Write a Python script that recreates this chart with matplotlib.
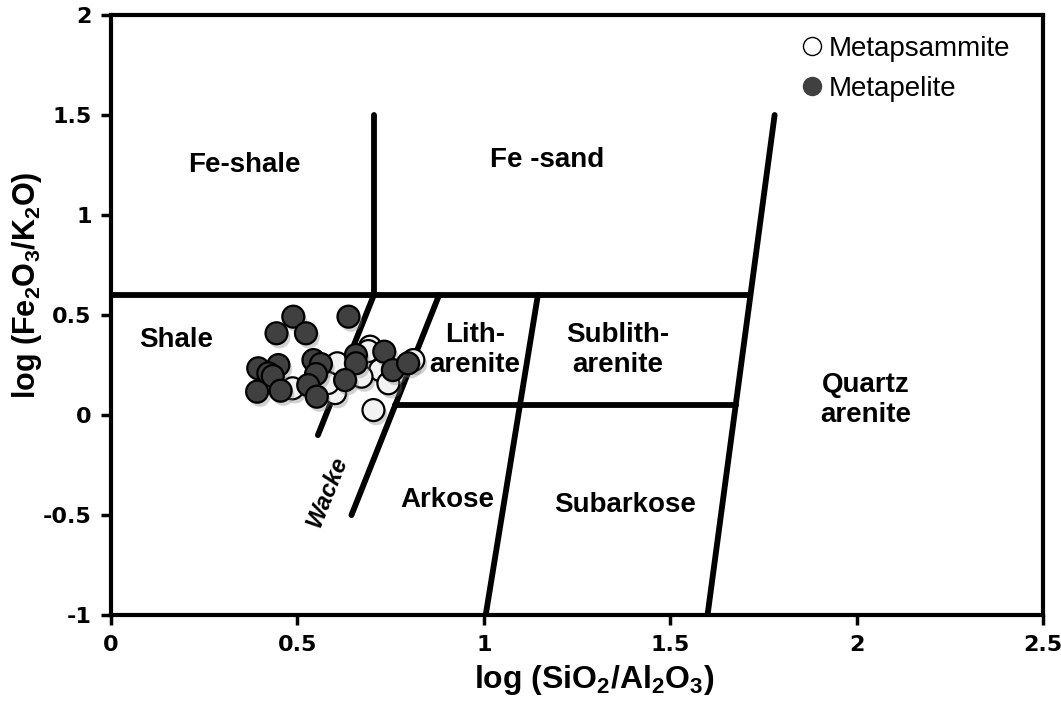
import numpy as np
import matplotlib.pyplot as plt
import matplotlib.patheffects as pe
from matplotlib.lines import Line2D

plt.rcParams['font.family'] = ['Liberation Sans', 'DejaVu Sans']
plt.rcParams['mathtext.default'] = 'regular'

# sample data: log(SiO2/Al2O3) vs log(Fe2O3/K2O)
psammite_x = [0.487, 0.607, 0.601, 0.582, 0.695, 0.722, 0.744, 0.704, 0.811, 0.672, 0.690]
psammite_y = [0.134, 0.259, 0.110, 0.160, 0.342, 0.225, 0.159, 0.025, 0.275, 0.192, 0.320]

pelite_x = [0.489, 0.444, 0.523, 0.637, 0.395, 0.449, 0.422, 0.434, 0.392, 0.455, 0.543,
            0.563, 0.550, 0.529, 0.552, 0.657, 0.657, 0.628, 0.733, 0.756, 0.797]
pelite_y = [0.492, 0.409, 0.409, 0.492, 0.234, 0.250, 0.209, 0.195, 0.117, 0.122, 0.275,
            0.255, 0.205, 0.150, 0.092, 0.300, 0.259, 0.175, 0.317, 0.225, 0.259]

# field boundaries (Herron 1988 classification)
boundaries = [
    ([0.0, 1.715], [0.6, 0.6]),
    ([0.705, 0.705], [0.6, 1.5]),
    ([1.60, 1.78], [-1.0, 1.5]),
    ([0.555, 0.705], [-0.1, 0.6]),
    ([0.645, 0.88], [-0.5, 0.6]),
    ([0.762, 1.676], [0.05, 0.05]),
    ([1.005, 1.145], [-1.0, 0.6]),
]

field_names = ['Fe-shale', 'Fe -sand', 'Shale', 'Lith-\narenite', 'Sublith-\narenite',
               'Quartz\narenite', 'Arkose', 'Subarkose']
field_x = [0.359, 1.17, 0.174, 0.976, 1.36, 2.025, 0.901, 1.379]
field_y = [1.25, 1.275, 0.375, 0.325, 0.325, 0.075, -0.425, -0.45]

fig = plt.figure(figsize=(10.61, 7.12), dpi=100)
ax = fig.add_axes([0.1046, 0.136, 0.8785, 0.843])

for bx, by in boundaries:
    ax.plot(bx, by, color='black', lw=4.2, solid_capstyle='round', zorder=2)

for name, tx, ty in zip(field_names, field_x, field_y):
    ax.text(tx, ty, name, ha='center', va='center', fontsize=20,
            fontweight='bold', linespacing=1.2, zorder=3)

ax.text(0.579, -0.385, 'Wacke', ha='center', va='center', fontsize=17,
        fontweight='bold', style='italic', rotation=68, zorder=3)

shadow = [pe.SimplePatchShadow(offset=(2, -3), shadow_rgbFace='0.5', alpha=0.35), pe.Normal()]
ax.scatter(psammite_x, psammite_y, s=250, c='#f2f2f2', edgecolors='black',
           linewidths=1.6, zorder=4, path_effects=shadow)
ax.scatter(pelite_x, pelite_y, s=250, c='#404040', edgecolors='black',
           linewidths=1.6, zorder=5, path_effects=shadow)

ax.set_xlim(0, 2.5)
ax.set_ylim(-1, 2)
ax.set_xticks([0, 0.5, 1, 1.5, 2, 2.5])
ax.set_xticklabels(['0', '0.5', '1', '1.5', '2', '2.5'])
ax.set_yticks([-1, -0.5, 0, 0.5, 1, 1.5, 2])
ax.set_yticklabels(['-1', '-0.5', '0', '0.5', '1', '1.5', '2'])
ax.tick_params(direction='out', length=7, width=2.5, labelsize=16, pad=7)
for lbl in ax.get_xticklabels() + ax.get_yticklabels():
    lbl.set_fontweight('bold')
    lbl.set_family('DejaVu Sans')
for sp in ax.spines.values():
    sp.set_linewidth(3)

ax.set_xlabel('log (SiO$_2$/Al$_2$O$_3$)', fontsize=23, fontweight='bold')
ax.set_ylabel('log (Fe$_2$O$_3$/K$_2$O)', fontsize=22, fontweight='bold')
ax.xaxis.set_label_coords(0.518, -0.08)
ax.yaxis.set_label_coords(-0.072, 0.55)

handles = [
    Line2D([], [], ls='none', marker='o', ms=13, mfc='white', mec='black', mew=1),
    Line2D([], [], ls='none', marker='o', ms=13, mfc='#404040', mec='#404040'),
]
ax.legend(handles, ['Metapsammite', 'Metapelite'], loc='upper right', frameon=False,
          bbox_to_anchor=(0.984, 0.995), fontsize=20, handletextpad=0.0,
          handlelength=1.2, borderaxespad=0.25, labelspacing=0.5)

fig.savefig('out.png', dpi=100)
